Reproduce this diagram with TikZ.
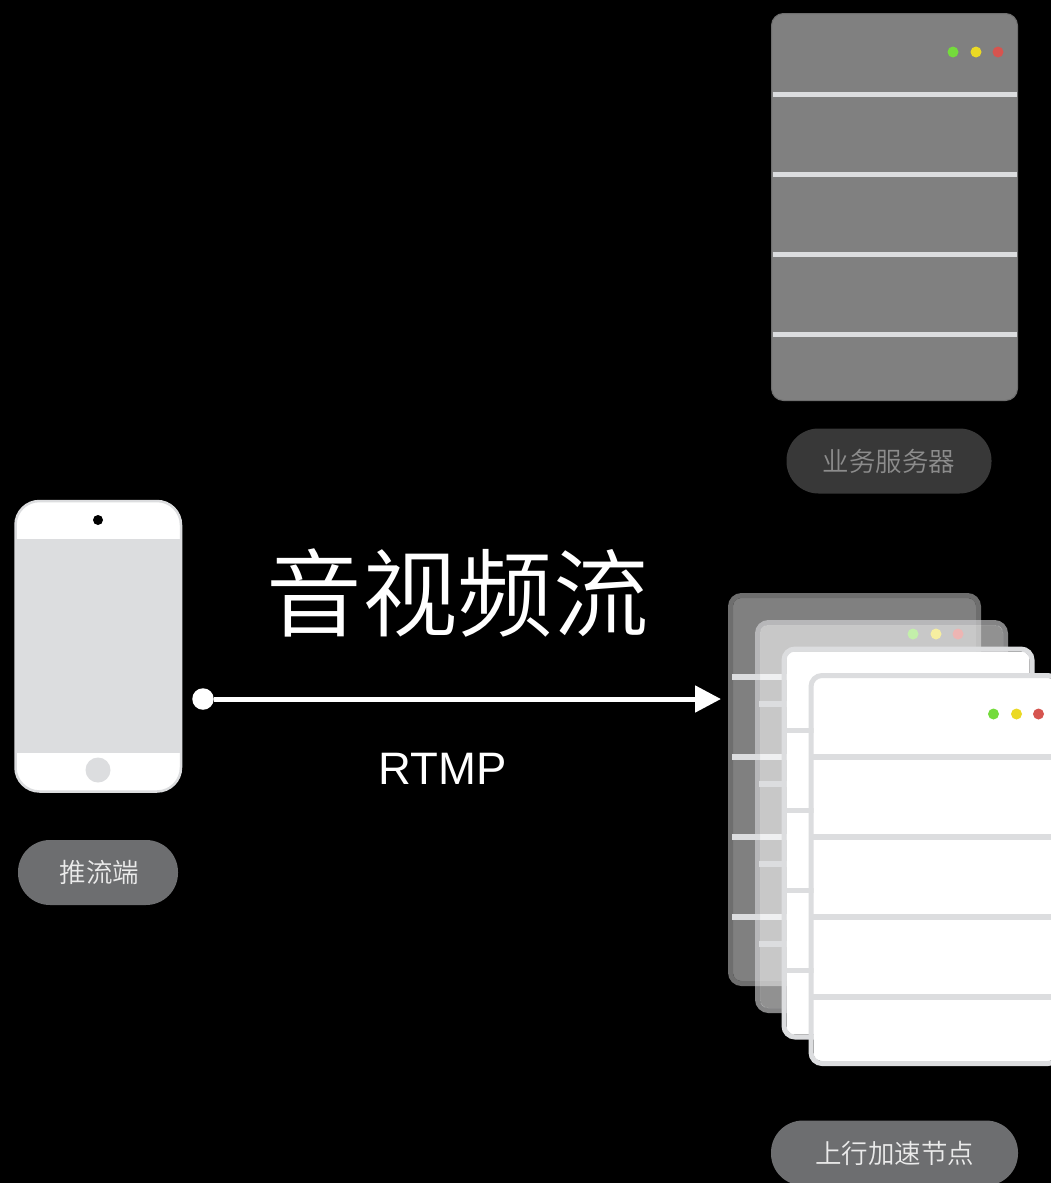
\documentclass[tikz,border=0pt]{standalone}
\usepackage{fontspec}
\setmainfont{Liberation Sans}
\newfontfamily\cjk{Noto Sans CJK SC DemiLight}
\usetikzlibrary{arrows.meta}
\definecolor{edgegray}{HTML}{DCDDDF}
\definecolor{pillgray}{HTML}{6D6E70}
\definecolor{dotgreen}{HTML}{74DB3C}
\definecolor{dotyellow}{HTML}{EBD924}
\definecolor{dotred}{HTML}{D6544F}
\tikzstyle{pill}=[rectangle,rounded corners=32pt,fill=pillgray,text=white!92!black,inner sep=0mm,minimum height=65pt,font=\cjk\fontsize{26.5}{30}\selectfont]
\tikzstyle{lamp}=[circle,inner sep=0mm,minimum size=11pt]
\tikzstyle{rackline}=[edgegray,line width=5.5pt]
\tikzstyle{arrow}=[-{Triangle[length=26pt,width=26pt]},white,line width=5pt]
\newcommand \rack [4] {
  \begin{scope}[shift={(#1,#2)}]
    \fill[#3,rounded corners=8pt] (5,5) rectangle (248,388);
    \draw[#4,line width=5pt,rounded corners=11pt] (2.5,2.5) rectangle (250.5,390.5);
    \foreach \yline in {84,164,244,324}
      \draw[rackline] (4,\yline) -- (249,\yline);
    \node[lamp,fill=dotgreen] at (185,41) {};
    \node[lamp,fill=dotyellow] at (208,41) {};
    \node[lamp,fill=dotred] at (230,41) {};
  \end{scope}
}
\begin{document}
\begin{tikzpicture}[x=1pt,y=-1pt]
      \fill[black] (0,0) rectangle (1051,1183);
      \clip (0,0) rectangle (1051,1183);
      % top server
      \draw[fill=black!50,draw=black!57,line width=1pt,rounded corners=12pt] (771.5,13.5) rectangle (1017.5,400.5);
      \foreach \yline in {94.5,174.5,254.5,334.5}
        \draw[rackline] (772.5,\yline) -- (1016.5,\yline);
      \node[lamp,fill=dotgreen] (srvgreen) at (953,52) {};
      \node[lamp,fill=dotyellow] (srvyellow) at (976,52) {};
      \node[lamp,fill=dotred] (srvred) at (998,52) {};
      \node[pill,fill=black!78,text=black!45,minimum width=205pt] (srvlabel) at (889,461) {业务服务器};
      % stack of nodes
      \rack{728}{593}{black!50}{black!57}
      \rack{755}{620}{white,opacity=.57}{edgegray,opacity=.6}
      \rack{781.5}{646.5}{white}{edgegray}
      \rack{808.5}{673}{white}{edgegray}
      \node[pill,minimum width=247pt] (uplabel) at (894.5,1153) {上行加速节点};
      % phone
      \draw[fill=white,draw=edgegray,line width=2.5pt,rounded corners=24pt] (15.5,501) rectangle (181,791.5);
      \fill[edgegray] (16.5,539) rectangle (180,753);
      \node[circle,fill=black,inner sep=0mm,minimum size=10pt] (camera) at (98,520) {};
      \node[circle,fill=edgegray,inner sep=0mm,minimum size=25pt] (home) at (98,770) {};
      \node[pill,minimum width=160pt,text width=158pt,align=center] (pushlabel) at (98,872.5) {\hspace*{3pt}推流端};
      % stream
      \node[circle,fill=white,inner sep=0mm,minimum size=21.5pt] (src) at (203,699) {};
      \coordinate (dst) at (721,699);
      \draw[arrow] (src) -- (dst);
      \node[text=white,font=\cjk\fontsize{95.5}{100}\selectfont,inner sep=0mm] (title) at (457.5,593) {音视频流};
      \node[text=white,font=\fontsize{45.5}{50}\selectfont,inner sep=0mm] (proto) at (443,769) {RTMP};
    \end{tikzpicture}
\end{document}
